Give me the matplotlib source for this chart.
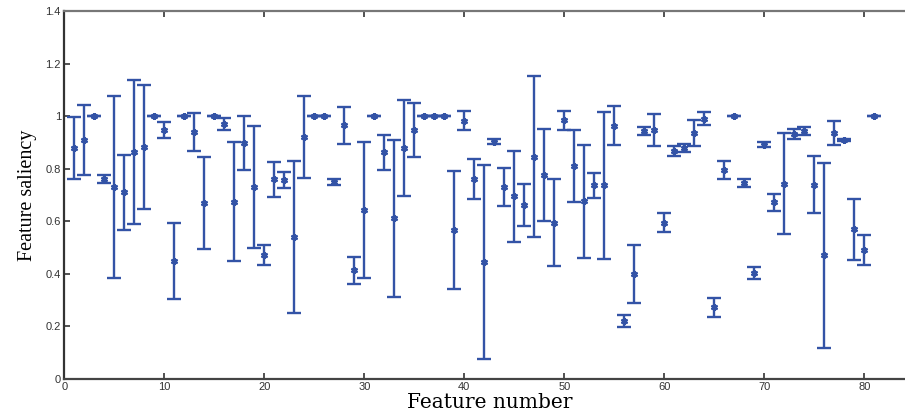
import matplotlib.pyplot as plt
import numpy as np

# mean saliency of each feature and the half-width of its error bar
features = list(range(1, 82))
saliency = [
    0.879, 0.908, 1.000, 0.761, 0.730, 0.710, 0.863, 0.882, 1.000, 0.947,
    0.448, 1.000, 0.940, 0.669, 1.000, 0.971, 0.675, 0.899, 0.729, 0.472,
    0.760, 0.757, 0.541, 0.922, 1.000, 1.000, 0.750, 0.965, 0.413, 0.642,
    1.000, 0.862, 0.611, 0.879, 0.948, 1.000, 1.000, 1.000, 0.566, 0.983,
    0.760, 0.446, 0.903, 0.729, 0.695, 0.661, 0.846, 0.776, 0.595, 0.984,
    0.810, 0.676, 0.737, 0.737, 0.964, 0.221, 0.401, 0.943, 0.948, 0.595,
    0.867, 0.880, 0.936, 0.990, 0.273, 0.795, 1.000, 0.747, 0.403, 0.891,
    0.672, 0.743, 0.933, 0.943, 0.739, 0.470, 0.936, 0.910, 0.569, 0.490,
    1.000,
]
spread = [
    0.119, 0.133, 0.000, 0.014, 0.345, 0.142, 0.273, 0.237, 0.000, 0.032,
    0.145, 0.000, 0.071, 0.174, 0.000, 0.023, 0.227, 0.102, 0.232, 0.038,
    0.066, 0.031, 0.290, 0.156, 0.000, 0.000, 0.012, 0.070, 0.051, 0.259,
    0.000, 0.068, 0.298, 0.182, 0.102, 0.000, 0.000, 0.000, 0.225, 0.035,
    0.077, 0.370, 0.010, 0.072, 0.173, 0.079, 0.307, 0.176, 0.164, 0.035,
    0.136, 0.215, 0.047, 0.280, 0.073, 0.023, 0.110, 0.014, 0.060, 0.035,
    0.018, 0.015, 0.050, 0.024, 0.036, 0.035, 0.000, 0.015, 0.023, 0.010,
    0.033, 0.193, 0.019, 0.014, 0.109, 0.352, 0.044, 0.003, 0.117, 0.056,
    0.000,
]

x_ticks = [0, 10, 20, 30, 40, 50, 60, 70, 80]
y_ticks = [0, 0.2, 0.4, 0.6, 0.8, 1.0, 1.2, 1.4]
y_tick_labels = ["0", "0.2", "0.4", "0.6", "0.8", "1", "1.2", "1.4"]

blue = "#3353A6"

fig = plt.figure(figsize=(9.05, 4.12), dpi=100)
ax = fig.add_axes([0.0711, 0.0801, 0.9289, 0.8932])

# asterisk markers with capped bars, matlab style
ax.errorbar(features, saliency, yerr=spread, fmt="none", ecolor=blue,
            elinewidth=1.7, capsize=5.3, capthick=1.7)
ax.plot(features, saliency, linestyle="none", marker=(6, 2, 0),
        color=blue, markersize=5, markeredgewidth=1.6)

ax.set_xlim(0, 84.07)
ax.set_ylim(0, 1.4)
ax.set_xticks(x_ticks)
ax.set_yticks(y_ticks)
ax.set_yticklabels(y_tick_labels)

ax.tick_params(direction="in", length=4, width=1.2, top=True, right=False,
               labelsize=8, colors="#333333", pad=2.5)
for lbl in ax.get_xticklabels() + ax.get_yticklabels():
    lbl.set_family("Liberation Sans")

ax.spines["right"].set_visible(False)
ax.spines["left"].set_color("#333333")
ax.spines["bottom"].set_color("#444444")
ax.spines["top"].set_color("#777777")
for side in ["left", "bottom", "top"]:
    ax.spines[side].set_linewidth(1.6)

ax.set_xlabel("Feature number", family="DejaVu Serif", fontsize=14.5,
              va="bottom")
ax.xaxis.set_label_coords(0.506, -0.0885)
ax.set_ylabel("Feature saliency", family="Liberation Serif", fontsize=14.5,
              labelpad=6)

fig.savefig("out.png", dpi=100)
